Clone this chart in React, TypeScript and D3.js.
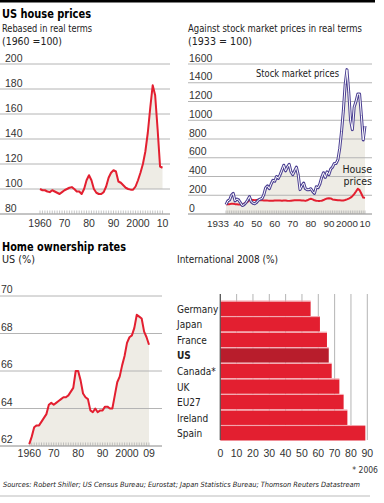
import * as d3 from 'd3';

// US house prices, real terms, 1960 = 100
const hpYears = d3.range(1960, 2011);
const hpValues = [100, 99, 99, 98, 97.5, 99, 98, 97, 96, 97.5, 99, 100, 101, 101.5, 100, 98, 98, 96, 100, 107, 111, 107, 100, 97, 96, 96, 97.5, 102, 109, 113, 115, 114, 106, 105, 103, 101, 100, 99.5, 99.5, 102, 107, 113, 120, 130, 145, 165, 183, 175, 148, 118, 117];
const hpTicks = [80, 100, 120, 140, 160, 180, 200];
const hpYearLabels = [1960, 1970, 1980, 1990, 2000, 2010];
const hpYearText = ['1960', '70', '80', '90', '2000', '10'];

// Stock market vs house prices, real terms, 1933 = 100
const smYears = d3.range(1933, 2011);
const stockValues = [100, 140, 150, 200, 220, 140, 160, 150, 120, 90, 100, 120, 150, 185, 130, 115, 110, 125, 150, 160, 165, 210, 280, 300, 270, 320, 360, 350, 400, 380, 420, 470, 520, 460, 500, 530, 450, 420, 460, 500, 420, 260, 300, 330, 270, 260, 260, 270, 240, 220, 290, 280, 320, 390, 440, 390, 450, 420, 480, 500, 540, 540, 580, 700, 880, 1100, 1380, 1540, 1300, 1000, 900, 1140, 1200, 1280, 1280, 1050, 790, 940];
const houseValues = [100, 105, 105, 110, 110, 105, 105, 102, 100, 100, 110, 120, 130, 148, 152, 150, 148, 150, 148, 148, 146, 145, 145, 143, 142, 142, 142, 145, 144, 144, 143, 142, 144, 143, 141, 140, 142, 144, 146, 147, 148, 146, 143, 143, 140, 146, 156, 162, 156, 146, 141, 140, 140, 142, 149, 159, 165, 168, 166, 155, 153, 150, 147, 146, 145, 145, 149, 156, 165, 175, 190, 212, 240, 270, 255, 216, 175, 172];
const smTicks = [0, 200, 400, 600, 800, 1000, 1200, 1400, 1600];
const smYearLabels = [1933, 1940, 1950, 1960, 1970, 1980, 1990, 2000, 2010];
const smYearText = ['1933', '40', '50', '60', '70', '80', '90', '2000', '10'];

// US home ownership rate, %
const hoYears = d3.range(1960, 2010);
const hoValues = [62.1, 62.5, 63.0, 63.1, 63.1, 63.3, 63.5, 63.7, 64.2, 64.3, 64.2, 64.3, 64.4, 64.5, 64.6, 64.6, 64.7, 64.9, 65.1, 66.0, 66.0, 65.5, 64.8, 64.6, 64.5, 63.9, 63.8, 64.0, 63.8, 63.9, 63.9, 64.1, 64.1, 64.0, 64.0, 64.7, 65.4, 65.7, 66.3, 66.8, 67.5, 67.8, 67.9, 68.3, 69.0, 68.9, 68.8, 68.1, 67.8, 67.4];
const hoTicks = [62, 64, 66, 68, 70];
const hoYearLabels = [1960, 1970, 1980, 1990, 2000, 2009];
const hoYearText = ['1960', '70', '80', '90', '2000', '09'];

// International home ownership 2008, %
const countries = ['Germany', 'Japan', 'France', 'US', 'Canada*', 'UK', 'EU27', 'Ireland', 'Spain'];
const ownership = [55.3, 61.0, 65.3, 66.4, 68.2, 72.9, 75.5, 77.8, 88.8];
const intTicks = [0, 10, 20, 30, 40, 50, 60, 70, 80, 90];

const TXT = "'DejaVu Sans Condensed', 'DejaVu Sans', sans-serif";
const NUM = "'Liberation Sans', Arial, sans-serif";
const RED = '#e31f30';
const FILL = '#eeece5';
const GRID = '#b4b4b4';
const PURPLE = '#4b3f92';

const App = () => {
  // panel 1
  const x1 = d3.scaleLinear().domain([1960, 2010]).range([40, 162.5]);
  const y1 = d3.scaleLinear().domain([80, 200]).range([214, 64]);
  const line1 = d3.line<number>().x((d, i) => x1(hpYears[i])).y(d => y1(d));
  const area1 = d3.area<number>().x((d, i) => x1(hpYears[i])).y0(y1(100)).y1(d => y1(d));

  // panel 2
  const x2 = d3.scaleLinear().domain([1933, 2010]).range([226, 365]);
  const y2 = d3.scaleLinear().domain([0, 1600]).range([214, 64]);
  const line2 = d3.line<number>().x((d, i) => x2(smYears[i])).y(d => y2(d));
  const area2 = d3.area<number>().x((d, i) => x2(smYears[i])).y0(y2(0)).y1(d => y2(d));

  // panel 3
  const x3 = d3.scaleLinear().domain([1960, 2009]).range([29.3, 149]);
  const y3 = d3.scaleLinear().domain([62, 70]).range([446, 296]);
  const line3 = d3.line<number>().x((d, i) => x3(hoYears[i])).y(d => y3(d));
  const area3 = d3.area<number>().x((d, i) => x3(hoYears[i])).y0(y3(62)).y1(d => y3(d));

  // panel 4
  const x4 = d3.scaleLinear().domain([0, 90]).range([220.3, 367.3]);
  const y4 = d3.scaleBand().domain(countries).range([301.5, 440.5]).paddingInner(0.07);

  return (
    <div style={{ position: 'absolute', left: 0, top: 0 }}>
      <svg width={384} height={503} style={{ display: 'block' }}>
        <rect x={0} y={0} width={375} height={2.5} fill="#000" />

        {/* ---------- US house prices ---------- */}
        <text x={2} y={18} fontFamily={TXT} fontWeight="bold" fontSize={13} textLength={89} lengthAdjust="spacingAndGlyphs">US house prices</text>
        <text x={2} y={32} fontFamily={TXT} fontSize={10.5} fill="#222" textLength={90} lengthAdjust="spacingAndGlyphs">Rebased in real terms</text>
        <text x={2} y={45} fontFamily={TXT} fontSize={10.5} fill="#222" textLength={60} lengthAdjust="spacingAndGlyphs">(1960 =100)</text>

        <path d={area1(hpValues) ?? ''} fill={FILL} />
        {hpTicks.map(t => (
          <g key={t}>
            <line x1={0} x2={170} y1={y1(t)} y2={y1(t)} stroke={t === 80 ? '#888' : GRID} strokeWidth={1} />
            <text x={5} y={y1(t) - 2.5} fontFamily={NUM} fontSize={10.5} fill="#333">{t}</text>
          </g>
        ))}
        {hpYears.map(yr => (
          <line key={yr} x1={x1(yr)} x2={x1(yr)} y1={214} y2={210.5} stroke="#aaa" strokeWidth={0.7} />
        ))}
        {hpYearLabels.map((yr, i) => (
          <text key={yr} x={x1(yr)} y={227} textAnchor="middle" fontFamily={NUM} fontSize={10.5} fill="#333">{hpYearText[i]}</text>
        ))}
        <path d={line1(hpValues) ?? ''} fill="none" stroke={RED} strokeWidth={2} strokeLinejoin="round" />

        {/* ---------- Stock market ---------- */}
        <text x={188} y={32} fontFamily={TXT} fontSize={10.5} fill="#222" textLength={174} lengthAdjust="spacingAndGlyphs">Against stock market prices in real terms</text>
        <text x={188} y={45} fontFamily={TXT} fontSize={10.5} fill="#222" textLength={64} lengthAdjust="spacingAndGlyphs">(1933 = 100)</text>

        <path d={area2(stockValues) ?? ''} fill={FILL} />
        {smTicks.map(t => (
          <g key={t}>
            <line x1={188} x2={372} y1={y2(t)} y2={y2(t)} stroke={t === 0 ? '#888' : GRID} strokeWidth={1} />
            <text x={189} y={y2(t) - 2.5} fontFamily={NUM} fontSize={10.5} fill="#333">{t}</text>
          </g>
        ))}
        {smYears.map(yr => (
          <line key={yr} x1={x2(yr)} x2={x2(yr)} y1={214} y2={210.5} stroke="#aaa" strokeWidth={0.7} />
        ))}
        {smYearLabels.map((yr, i) => (
          <text key={yr} x={x2(yr) - (i === 0 ? 8 : 0)} y={227} textAnchor="middle" fontFamily={NUM} fontSize={9.8} fill="#333">{smYearText[i]}</text>
        ))}
        <path d={line2(houseValues) ?? ''} fill="none" stroke={RED} strokeWidth={2} strokeLinejoin="round" />
        <path d={line2(stockValues) ?? ''} fill="none" stroke={PURPLE} strokeWidth={3} strokeLinejoin="round" />
        <path d={line2(stockValues) ?? ''} fill="none" stroke="#fff" strokeWidth={1} strokeLinejoin="round" />
        <text x={256} y={77} fontFamily={TXT} fontSize={10.5} fill="#222" textLength={83} lengthAdjust="spacingAndGlyphs">Stock market prices</text>
        <text x={372} y={173} textAnchor="end" fontFamily={TXT} fontSize={10.5} fill="#222">House</text>
        <text x={372} y={185} textAnchor="end" fontFamily={TXT} fontSize={10.5} fill="#222">prices</text>

        {/* ---------- Home ownership rates ---------- */}
        <text x={2} y={250.5} fontFamily={TXT} fontWeight="bold" fontSize={13} textLength={124} lengthAdjust="spacingAndGlyphs">Home ownership rates</text>
        <text x={2} y={263} fontFamily={TXT} fontSize={10.5} fill="#222" textLength={33} lengthAdjust="spacingAndGlyphs">US (%)</text>

        <path d={area3(hoValues) ?? ''} fill={FILL} />
        {hoTicks.map(t => (
          <g key={t}>
            <line x1={0} x2={162} y1={y3(t)} y2={y3(t)} stroke={t === 62 ? '#888' : GRID} strokeWidth={1} />
            <text x={1} y={y3(t) - 3} fontFamily={NUM} fontSize={10.5} fill="#333">{t}</text>
          </g>
        ))}
        {hoYears.map(yr => (
          <line key={yr} x1={x3(yr)} x2={x3(yr)} y1={446} y2={442.5} stroke="#aaa" strokeWidth={0.7} />
        ))}
        {hoYearLabels.map((yr, i) => (
          <text key={yr} x={x3(yr)} y={457} textAnchor="middle" fontFamily={NUM} fontSize={10.5} fill="#333">{hoYearText[i]}</text>
        ))}
        <path d={line3(hoValues) ?? ''} fill="none" stroke={RED} strokeWidth={2} strokeLinejoin="round" />

        {/* ---------- International ---------- */}
        <text x={177} y={263} fontFamily={TXT} fontSize={10.5} fill="#222" textLength={101} lengthAdjust="spacingAndGlyphs">International 2008 (%)</text>
        {intTicks.map(t => (
          <g key={t}>
            <line x1={x4(t)} x2={x4(t)} y1={294} y2={440} stroke={t === 0 ? '#555' : GRID} strokeWidth={1} />
            <text x={x4(t)} y={457} textAnchor="middle" fontFamily={NUM} fontSize={10.5} fill="#333">{t}</text>
          </g>
        ))}
        {countries.map((c, i) => (
          <g key={c}>
            <rect x={x4(0)} y={y4(c)} width={x4(ownership[i]) - x4(0)} height={y4.bandwidth()} fill={c === 'US' ? '#b81d2c' : RED} />
            <rect x={x4(0)} y={(y4(c) ?? 0) - 1} width={x4(ownership[i]) - x4(0)} height={1} fill="#f3a3ab" />
            <text x={177} y={(y4(c) ?? 0) + y4.bandwidth() / 2 + 4} fontFamily={TXT} fontSize={10} fontWeight={c === 'US' ? 'bold' : 'normal'} fill="#222">{c}</text>
          </g>
        ))}
        <line x1={x4(0)} x2={x4(0)} y1={294} y2={440} stroke="#555" strokeWidth={1} />

        {/* ---------- footer ---------- */}
        <text x={378} y={473} textAnchor="end" fontFamily={TXT} fontSize={8.5} fill="#333">* 2006</text>
        <text x={3} y={487} fontFamily={TXT} fontSize={7.2} fontStyle="italic" fill="#222" textLength={357} lengthAdjust="spacingAndGlyphs">Sources: Robert Shiller; US Census Bureau; Eurostat; Japan Statistics Bureau; Thomson Reuters Datastream</text>
        <line x1={0} x2={370} y1={496} y2={496} stroke="#bbb" strokeWidth={1} />
      </svg>
    </div>
  );
};

export default App;
